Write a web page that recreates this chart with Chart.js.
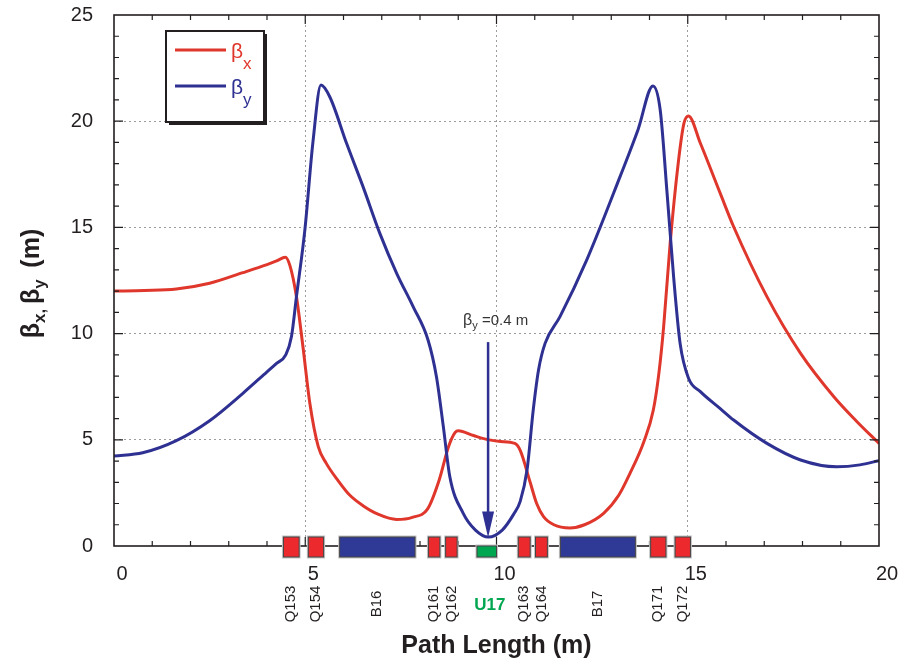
<!DOCTYPE html>
<html>
<head>
<meta charset="utf-8">
<script src="https://cdn.jsdelivr.net/npm/chart.js@4"></script>
<style>
  body { margin: 0; background: #fff; }
</style>
</head>
<body>
<canvas id="betaChart" width="915" height="665"></canvas>
<script>
// beta functions (m)
const seriesNames = ['βx', 'βy'];
const betaXPos = [0, 0.8, 1.63, 2.5, 3.37, 4.0, 4.25, 4.48, 4.6, 4.77, 4.94, 5.12, 5.34, 5.55, 5.85, 6.16, 6.51, 6.9, 7.39, 7.8, 8.2, 8.5, 8.75, 8.92, 9.0, 9.4, 9.74, 10.1, 10.48, 10.62, 10.88, 11.05, 11.23, 11.5, 11.92, 12.3, 12.8, 13.2, 13.49, 13.85, 14.1, 14.25, 14.37, 14.54, 14.76, 14.9, 15.02, 15.33, 15.85, 16.2, 17.07, 17.95, 18.82, 19.4, 20];
const betaXVal = [12.0, 12.03, 12.1, 12.37, 12.87, 13.25, 13.42, 13.6, 13.2, 11.74, 9.38, 6.72, 4.68, 3.89, 3.1, 2.4, 1.9, 1.5, 1.25, 1.35, 1.75, 3.1, 4.7, 5.35, 5.43, 5.2, 5.02, 4.92, 4.83, 4.5, 3.0, 2.0, 1.38, 1.0, 0.85, 1.0, 1.54, 2.4, 3.42, 4.9, 6.4, 8.2, 10.33, 14.25, 18.17, 19.9, 20.25, 18.96, 16.6, 15.03, 11.74, 9.07, 7.03, 5.9, 4.83];
const betaYPos = [0, 0.75, 1.63, 2.5, 3.37, 4.0, 4.25, 4.49, 4.64, 4.77, 4.99, 5.2, 5.41, 5.64, 6.08, 6.51, 6.95, 7.39, 7.82, 8.21, 8.43, 8.61, 8.78, 9.13, 9.45, 9.79, 10.15, 10.45, 10.62, 10.8, 10.96, 11.1, 11.27, 11.66, 12.36, 13.23, 13.7, 14.09, 14.28, 14.46, 14.63, 14.8, 15.02, 15.33, 15.85, 16.2, 17.07, 17.95, 18.9, 19.5, 20];
const betaYVal = [4.24, 4.39, 4.96, 5.9, 7.19, 8.2, 8.6, 9.0, 9.86, 11.74, 14.88, 19.0, 21.7, 21.15, 18.96, 16.92, 14.72, 12.84, 11.27, 9.7, 7.97, 5.62, 3.26, 1.54, 0.75, 0.42, 0.75, 1.5, 2.1, 3.6, 6.4, 8.3, 9.54, 10.8, 13.47, 17.39, 19.6, 21.66, 20.53, 16.6, 12.68, 9.54, 7.9, 7.27, 6.47, 5.93, 4.83, 4.05, 3.73, 3.82, 4.02];

const xTickValues = [0, 5, 10, 15, 20];
const yTickValues = [0, 5, 10, 15, 20, 25];

// magnet layout along the path
const elementNames = ['Q153', 'Q154', 'B16', 'Q161', 'Q162', 'U17', 'Q163', 'Q164', 'B17', 'Q171', 'Q172'];
const elementStart = [4.43, 5.08, 5.9, 8.22, 8.67, 9.49, 10.57, 11.02, 11.67, 14.03, 14.67];
const elementEnd = [4.84, 5.48, 7.87, 8.52, 8.97, 10.0, 10.88, 11.33, 13.63, 14.43, 15.07];
const elementKind = ['Q', 'Q', 'B', 'Q', 'Q', 'U', 'Q', 'Q', 'B', 'Q', 'Q'];

// minimum beta marker
const minBetaYPos = 9.78;
const minBetaYVal = 0.4;
const arrowFromVal = 9.6;

const RED = '#e0372c';
const BLUE = '#2e3192';
const INK = '#231f20';
const kindColor = { Q: '#ec2a2e', B: '#2f3a96', U: '#00a650' };

Chart.defaults.font.family = "'Liberation Sans', Arial, sans-serif";
Chart.defaults.color = INK;

function toPoints(xs, ys) {
  return xs.map((v, i) => ({ x: v, y: ys[i] }));
}

// draws "β" + subscript, returns the width used
function drawSub(ctx, base, sub, x, y, bigFont, smallFont, drop) {
  ctx.font = bigFont;
  ctx.fillText(base, x, y);
  const w = ctx.measureText(base).width;
  ctx.font = smallFont;
  ctx.fillText(sub, x + w, y + drop);
  return w + ctx.measureText(sub).width;
}

const framePlugin = {
  id: 'framePlugin',
  afterDraw(chart) {
    const { ctx, chartArea: a, scales: { x, y } } = chart;
    ctx.save();

    // inward ticks on all four sides
    ctx.strokeStyle = INK;
    ctx.lineWidth = 1.2;
    ctx.beginPath();
    for (let v = x.min + 1; v < x.max; v++) {
      const px = x.getPixelForValue(v);
      const len = v % 5 === 0 ? 9 : 5;
      ctx.moveTo(px, a.bottom); ctx.lineTo(px, a.bottom - len);
      ctx.moveTo(px, a.top); ctx.lineTo(px, a.top + len);
    }
    for (let v = y.min + 1; v < y.max; v++) {
      const py = y.getPixelForValue(v);
      const len = v % 5 === 0 ? 9 : 5;
      ctx.moveTo(a.left, py); ctx.lineTo(a.left + len, py);
      ctx.moveTo(a.right, py); ctx.lineTo(a.right - len, py);
    }
    ctx.stroke();
    ctx.lineWidth = 1.6;
    ctx.strokeRect(a.left, a.top, a.right - a.left, a.bottom - a.top);

    // magnets
    const base = y.getPixelForValue(0);
    elementNames.forEach((name, i) => {
      const x0 = x.getPixelForValue(elementStart[i]);
      const x1 = x.getPixelForValue(elementEnd[i]);
      const kind = elementKind[i];
      const top = kind === 'U' ? base : base - 9;
      const h = kind === 'U' ? 11 : 20;
      ctx.strokeStyle = '#c4c4c4';
      ctx.lineWidth = 3;
      ctx.strokeRect(x0, top, x1 - x0, h);
      ctx.fillStyle = kindColor[kind];
      ctx.fillRect(x0, top, x1 - x0, h);
      ctx.strokeStyle = '#444';
      ctx.lineWidth = 1;
      ctx.strokeRect(x0, top, x1 - x0, h);

      const cx = (x0 + x1) / 2;
      ctx.textAlign = 'center';
      ctx.textBaseline = 'middle';
      if (kind === 'U') {
        ctx.fillStyle = kindColor.U;
        ctx.font = 'bold 17px "Liberation Sans", Arial';
        ctx.fillText(name, cx + 3, base + 59);
      } else {
        ctx.save();
        ctx.translate(cx, base + 58);
        ctx.rotate(-Math.PI / 2);
        ctx.fillStyle = INK;
        ctx.font = '15px "Liberation Sans", Arial';
        ctx.fillText(name, 0, 0);
        ctx.restore();
      }
    });

    // arrow to the beta_y minimum
    const ax = x.getPixelForValue(minBetaYPos);
    const aTop = y.getPixelForValue(arrowFromVal);
    const aTip = y.getPixelForValue(minBetaYVal);
    ctx.strokeStyle = BLUE;
    ctx.fillStyle = BLUE;
    ctx.lineWidth = 2.5;
    ctx.beginPath();
    ctx.moveTo(ax, aTop);
    ctx.lineTo(ax, aTip - 20);
    ctx.stroke();
    ctx.beginPath();
    ctx.moveTo(ax, aTip);
    ctx.lineTo(ax - 6, aTip - 26);
    ctx.lineTo(ax + 6, aTip - 26);
    ctx.closePath();
    ctx.fill();

    ctx.fillStyle = '#333';
    ctx.textAlign = 'left';
    ctx.textBaseline = 'alphabetic';
    let tx = ax - 25;
    const ty = aTop - 17;
    tx += drawSub(ctx, 'β', 'y', tx, ty, '16px "Liberation Sans", Arial', '11px "Liberation Sans", Arial', 4);
    ctx.font = '15px "Liberation Sans", Arial';
    ctx.fillText(' =' + minBetaYVal + ' m', tx, ty);

    // legend box
    const lx = a.left + 52, ly = a.top + 16, lw = 98, lh = 91;
    ctx.fillStyle = INK;
    ctx.fillRect(lx + 3, ly + 3, lw, lh);
    ctx.fillStyle = '#fff';
    ctx.fillRect(lx, ly, lw, lh);
    ctx.strokeStyle = INK;
    ctx.lineWidth = 2;
    ctx.strokeRect(lx, ly, lw, lh);
    [RED, BLUE].forEach((col, i) => {
      const ry = ly + 19 + i * 36;
      ctx.strokeStyle = col;
      ctx.lineWidth = 3;
      ctx.beginPath();
      ctx.moveTo(lx + 9, ry);
      ctx.lineTo(lx + 60, ry);
      ctx.stroke();
      ctx.fillStyle = col;
      drawSub(ctx, seriesNames[i][0], seriesNames[i].slice(1), lx + 65, ry + 8,
        '21px "Liberation Sans", Arial', '17px "Liberation Sans", Arial', 11);
    });

    // y axis title with subscripts
    ctx.save();
    ctx.translate(39, (a.top + a.bottom) / 2 + 3);
    ctx.rotate(-Math.PI / 2);
    ctx.fillStyle = INK;
    const big = 'bold 25px "Liberation Sans", Arial';
    const small = 'bold 17px "Liberation Sans", Arial';
    const parts = [['β', 'x, '], ['β', 'y '], [' (m)', '']];
    let total = 0;
    parts.forEach(p => {
      ctx.font = big; total += ctx.measureText(p[0]).width;
      ctx.font = small; total += ctx.measureText(p[1]).width;
    });
    let px = -total / 2;
    parts.forEach(p => {
      px += drawSub(ctx, p[0], p[1], px, 0, big, small, 6);
    });
    ctx.restore();

    ctx.restore();
  }
};

const gridColor = (ends) => (c) => ends.includes(c.tick.value) ? 'rgba(0,0,0,0)' : '#9c9c9c';

const ctx = document.getElementById('betaChart').getContext('2d');
const betaChart = new Chart(ctx, {
  type: 'line',
  data: {
    datasets: [
      {
        label: seriesNames[0],
        data: toPoints(betaXPos, betaXVal),
        borderColor: RED,
        borderWidth: 3,
        pointRadius: 0,
        cubicInterpolationMode: 'monotone',
        fill: false,
        order: 2
      },
      {
        label: seriesNames[1],
        data: toPoints(betaYPos, betaYVal),
        borderColor: BLUE,
        borderWidth: 3,
        pointRadius: 0,
        cubicInterpolationMode: 'monotone',
        fill: false,
        order: 1
      }
    ]
  },
  options: {
    responsive: false,
    animation: false,
    layout: { padding: { top: 15, right: 36, left: 0, bottom: 0 } },
    plugins: {
      legend: { display: false },
      tooltip: { enabled: false }
    },
    scales: {
      x: {
        type: 'linear',
        min: 0,
        max: 20,
        afterBuildTicks: s => { s.ticks = xTickValues.map(v => ({ value: v })); },
        afterFit: s => { s.height = 119; s.paddingLeft = 0; s.paddingRight = 0; },
        grid: { color: gridColor([0, 20]), lineWidth: 1, drawTicks: false },
        border: { display: false, dash: [2, 3] },
        ticks: { font: { size: 20 }, padding: 16, labelOffset: 8, maxRotation: 0 },
        title: {
          display: true,
          text: 'Path Length (m)',
          font: { size: 25, weight: 'bold' },
          padding: { top: 0, bottom: 4 }
        }
      },
      y: {
        min: 0,
        max: 25,
        afterBuildTicks: s => { s.ticks = yTickValues.map(v => ({ value: v })); },
        afterFit: s => { s.width = 114; s.paddingTop = 0; s.paddingBottom = 0; },
        grid: { color: gridColor([0, 25]), lineWidth: 1, drawTicks: false },
        border: { display: false, dash: [2, 3] },
        ticks: { font: { size: 20 }, padding: 21 }
      }
    }
  },
  plugins: [framePlugin]
});
</script>
</body>
</html>
